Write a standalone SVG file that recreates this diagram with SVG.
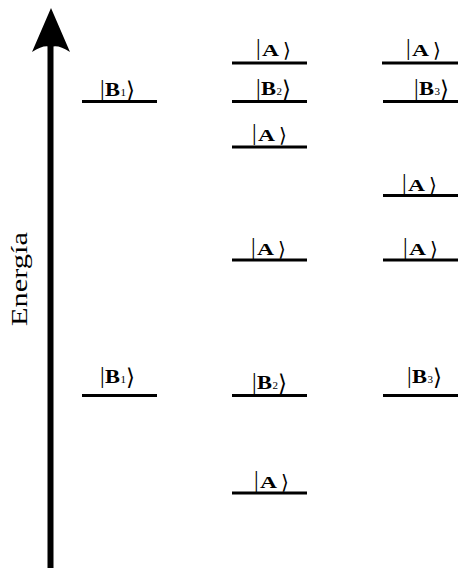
<svg xmlns="http://www.w3.org/2000/svg" width="459" height="570" viewBox="0 0 459 570">
<style>
.lvl{stroke:#000;stroke-width:3;fill:none}
text{fill:#000}
.bar{font-family:"Liberation Serif","DejaVu Serif",serif;font-size:23px}
.A{font-family:"Liberation Serif","DejaVu Serif",serif;font-size:17.5px;font-weight:bold}
.B{font-family:"Liberation Serif","DejaVu Serif",serif;font-size:18.5px;font-weight:bold}
.s{font-family:"Liberation Serif","DejaVu Serif",serif;font-size:11px}
.ang{font-family:"DejaVu Sans","Liberation Serif",sans-serif;font-size:20px}
.angB{font-family:"DejaVu Sans","Liberation Serif",sans-serif;font-size:23px}
.axis{font-family:"Liberation Serif","DejaVu Serif",serif;font-size:23px}
</style>
<rect width="459" height="570" fill="#fff"/>
<g id="axis">
<line x1="50.5" y1="40" x2="50.5" y2="568" stroke="#000" stroke-width="6"/>
<path d="M51,8 L70,52 Q58,44 51,47 Q44,44 32,52 Z" fill="#000"/>
<text class="axis" transform="translate(27,279) rotate(-90)" x="-47" y="0" textLength="94" lengthAdjust="spacingAndGlyphs">Energía</text>
</g>
<g id="B1-top"><line class="lvl" x1="82" y1="101.5" x2="157" y2="101.5"/>
<text class="bar" x="100" y="96">|</text><text class="B" x="105" y="96" textLength="15" lengthAdjust="spacingAndGlyphs">B</text><text class="s" x="120.5" y="96">1</text><text class="angB" x="126" y="98">⟩</text></g>
<g id="B1-bottom"><line class="lvl" x1="82" y1="395.5" x2="157" y2="395.5"/>
<text class="bar" x="100" y="383">|</text><text class="B" x="105" y="383" textLength="15" lengthAdjust="spacingAndGlyphs">B</text><text class="s" x="120.5" y="383">1</text><text class="angB" x="126" y="385">⟩</text></g>
<g id="A2-1"><line class="lvl" x1="232" y1="63" x2="307" y2="63"/>
<text class="bar" x="256" y="55">|</text><text class="A" x="262" y="56" textLength="17" lengthAdjust="spacingAndGlyphs">A</text><text class="ang" x="283" y="57">⟩</text></g>
<g id="B2-top"><line class="lvl" x1="232" y1="101.5" x2="307" y2="101.5"/>
<text class="bar" x="256" y="95">|</text><text class="B" x="261" y="95" textLength="15" lengthAdjust="spacingAndGlyphs">B</text><text class="s" x="276.5" y="95">2</text><text class="angB" x="282" y="97">⟩</text></g>
<g id="A2-2"><line class="lvl" x1="232" y1="147" x2="307" y2="147"/>
<text class="bar" x="252" y="140">|</text><text class="A" x="258" y="141" textLength="17" lengthAdjust="spacingAndGlyphs">A</text><text class="ang" x="279" y="142">⟩</text></g>
<g id="A2-3"><line class="lvl" x1="232" y1="260" x2="307" y2="260"/>
<text class="bar" x="251" y="254">|</text><text class="A" x="257" y="255" textLength="17" lengthAdjust="spacingAndGlyphs">A</text><text class="ang" x="278" y="256">⟩</text></g>
<g id="B2-bottom"><line class="lvl" x1="232" y1="395.5" x2="307" y2="395.5"/>
<text class="bar" x="252" y="389">|</text><text class="B" x="257" y="389" textLength="15" lengthAdjust="spacingAndGlyphs">B</text><text class="s" x="272.5" y="389">2</text><text class="angB" x="278" y="391">⟩</text></g>
<g id="A2-4"><line class="lvl" x1="232" y1="493" x2="307" y2="493"/>
<text class="bar" x="254" y="487">|</text><text class="A" x="260" y="488" textLength="17" lengthAdjust="spacingAndGlyphs">A</text><text class="ang" x="281" y="489">⟩</text></g>
<g id="A3-1"><line class="lvl" x1="382" y1="63" x2="458" y2="63"/>
<text class="bar" x="406" y="55">|</text><text class="A" x="412" y="56" textLength="17" lengthAdjust="spacingAndGlyphs">A</text><text class="ang" x="433" y="57">⟩</text></g>
<g id="B3-top"><line class="lvl" x1="383" y1="101.5" x2="458" y2="101.5"/>
<text class="bar" x="414" y="95">|</text><text class="B" x="419" y="95" textLength="15" lengthAdjust="spacingAndGlyphs">B</text><text class="s" x="434.5" y="95">3</text><text class="angB" x="440" y="97">⟩</text></g>
<g id="A3-2"><line class="lvl" x1="383" y1="195.5" x2="458" y2="195.5"/>
<text class="bar" x="402" y="190">|</text><text class="A" x="408" y="191" textLength="17" lengthAdjust="spacingAndGlyphs">A</text><text class="ang" x="429" y="192">⟩</text></g>
<g id="A3-3"><line class="lvl" x1="383" y1="260" x2="458" y2="260"/>
<text class="bar" x="403" y="254">|</text><text class="A" x="409" y="255" textLength="17" lengthAdjust="spacingAndGlyphs">A</text><text class="ang" x="430" y="256">⟩</text></g>
<g id="B3-bottom"><line class="lvl" x1="383" y1="395.5" x2="458" y2="395.5"/>
<text class="bar" x="407" y="383">|</text><text class="B" x="412" y="383" textLength="15" lengthAdjust="spacingAndGlyphs">B</text><text class="s" x="427.5" y="383">3</text><text class="angB" x="433" y="385">⟩</text></g>
<g id="connectors"/>
</svg>
